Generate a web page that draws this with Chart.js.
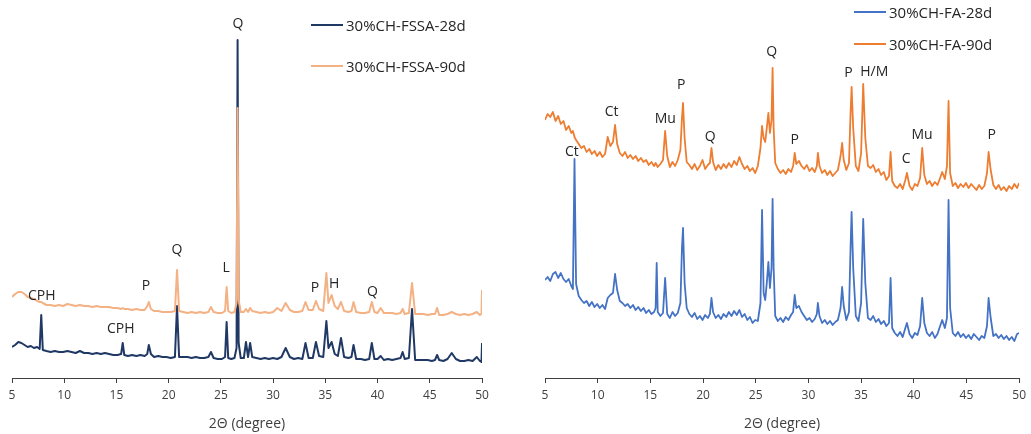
<!DOCTYPE html>
<html>
<head>
<meta charset="utf-8">
<script src="https://cdn.jsdelivr.net/npm/chart.js@4"></script>
<style>
  body { margin: 0; background: #fff; width: 1031px; height: 434px; position: relative; overflow: hidden; font-family: "Open Sans", sans-serif; }
  canvas { position: absolute; top: 0; }
  #leftChart { left: 0; }
  #rightChart { left: 525px; }
  .legend { position: absolute; font-size: 15px; color: #262626; white-space: nowrap; }
  .legend .item { position: absolute; left: 0; display: flex; align-items: center; }
  .legend .swatch { display: inline-block; width: 32px; height: 2px; margin-right: 3px; }
</style>
</head>
<body>
<canvas id="leftChart" width="500" height="434"></canvas>
<canvas id="rightChart" width="506" height="434"></canvas>
<div class="legend" id="leftLegend" style="left:311px; top:0;"></div>
<div class="legend" id="rightLegend" style="left:854px; top:0;"></div>
<script>
// ---- left panel: FSSA (2-theta grid shared by both patterns) ----
const fssaTheta = [
  5, 5.3, 5.6, 5.9, 6.2, 6.5, 6.8, 7.1, 7.4, 7.65,
  7.8, 7.95, 8.3, 8.7, 9.1, 9.5, 9.9, 10.3, 10.7, 11.1,
  11.5, 11.9, 12.3, 12.7, 13.1, 13.5, 13.9, 14.3, 14.7, 15.1,
  15.45, 15.6, 15.75, 16.1, 16.5, 16.9, 17.3, 17.7, 17.95, 18.1,
  18.3, 18.6, 19.0, 19.4, 19.8, 20.2, 20.6, 20.8, 21.0, 21.4,
  21.8, 22.2, 22.6, 23.0, 23.4, 23.8, 24.05, 24.3, 24.7, 25.1,
  25.4, 25.55, 25.7, 26.0, 26.3, 26.5, 26.6, 26.7, 26.9, 27.2,
  27.4, 27.6, 27.8, 28.0, 28.4, 28.8, 29.2, 29.6, 30.0, 30.4,
  30.8, 31.2, 31.6, 32.0, 32.4, 32.8, 33.1, 33.4, 33.8, 34.1,
  34.4, 34.8, 35.1, 35.3, 35.6, 35.9, 36.2, 36.5, 36.8, 37.2,
  37.5, 37.7, 37.95, 38.4, 38.8, 39.2, 39.45, 39.7, 40.0, 40.3,
  40.6, 41.0, 41.4, 41.8, 42.2, 42.4, 42.6, 43.0, 43.3, 43.6,
  44.0, 44.4, 44.8, 45.2, 45.5, 45.7, 45.9, 46.3, 46.7, 47.1,
  47.5, 47.9, 48.3, 48.7, 49.1, 49.5, 49.8, 49.95, 50
];
const fssa28d = [
  31, 33, 36, 35, 33, 31, 32, 30, 31, 29,
  63, 28, 27, 26, 27, 26, 26, 27, 26, 25,
  27, 25, 25, 24, 25, 24, 25, 24, 23, 23,
  24, 35, 23, 22, 23, 22, 23, 22, 24, 33,
  24, 21, 22, 21, 21, 20, 21, 72, 21, 21,
  21, 20, 21, 20, 20, 21, 26, 20, 19, 19,
  21, 56, 20, 19, 20, 30, 338, 35, 20, 20,
  36, 21, 35, 21, 20, 19, 20, 19, 20, 19,
  21, 30, 21, 19, 20, 19, 35, 20, 20, 36,
  22, 21, 57, 30, 36, 24, 22, 40, 21, 20,
  21, 33, 19, 19, 18, 19, 35, 19, 19, 22,
  18, 19, 18, 19, 20, 26, 19, 20, 69, 18,
  18, 18, 18, 17, 18, 23, 18, 17, 19, 25,
  19, 17, 17, 18, 17, 21, 17, 16, 35
];
const fssa90d = [
  81, 84, 86, 86, 84, 81, 80, 79, 77, 76,
  76, 75, 73, 73, 72, 73, 72, 74, 73, 72,
  73, 72, 72, 71, 72, 71, 71, 71, 70, 70,
  69, 70, 69, 69, 68, 69, 68, 68, 72, 76,
  69, 67, 67, 66, 66, 66, 67, 108, 67, 66,
  65, 66, 65, 66, 65, 66, 71, 66, 65, 65,
  67, 91, 67, 65, 66, 75, 270, 78, 66, 66,
  69, 66, 70, 67, 66, 65, 66, 65, 66, 70,
  67, 75, 68, 66, 66, 67, 76, 68, 68, 77,
  69, 67, 105, 75, 83, 72, 69, 76, 67, 66,
  67, 76, 66, 65, 65, 66, 76, 66, 65, 70,
  65, 65, 65, 64, 65, 69, 64, 65, 95, 64,
  64, 64, 63, 64, 64, 70, 63, 63, 64, 66,
  64, 63, 64, 63, 64, 66, 63, 64, 88
];
const fssaPeakNames = ["CPH", "CPH", "P", "Q", "L", "Q", "P", "H", "Q"];
const fssaPeakTheta = [7.85, 15.42, 17.83, 20.8, 25.5, 26.64, 34.0, 35.84, 39.5];
const fssaPeakLevel = [82, 49, 92, 128, 110, 354, 90, 94, 86];

// ---- right panel: FA ----
const faTheta = [
  5, 5.25, 5.5, 5.75, 6, 6.25, 6.5, 6.75, 7, 7.25,
  7.5, 7.65, 7.8, 7.95, 8.2, 8.45, 8.7, 8.95, 9.2, 9.45,
  9.7, 9.95, 10.2, 10.45, 10.7, 10.95, 11.2, 11.45, 11.65, 11.85,
  12.1, 12.35, 12.6, 12.85, 13.1, 13.35, 13.6, 13.85, 14.1, 14.35,
  14.6, 14.85, 15.1, 15.35, 15.5, 15.6, 15.7, 15.95, 16.2, 16.4,
  16.6, 16.85, 17.1, 17.35, 17.6, 17.85, 18.0, 18.1, 18.25, 18.45,
  18.7, 18.95, 19.2, 19.45, 19.7, 19.95, 20.2, 20.45, 20.65, 20.8,
  20.95, 21.2, 21.45, 21.7, 21.95, 22.2, 22.45, 22.7, 22.95, 23.2,
  23.45, 23.7, 23.95, 24.2, 24.45, 24.7, 24.95, 25.2, 25.45, 25.6,
  25.75, 25.9, 26.05, 26.2, 26.35, 26.5, 26.6, 26.7, 26.85, 27.1,
  27.35, 27.6, 27.85, 28.1, 28.35, 28.55, 28.7, 28.85, 29.1, 29.35,
  29.6, 29.85, 30.1, 30.35, 30.6, 30.8, 30.9, 31.05, 31.3, 31.55,
  31.8, 32.05, 32.3, 32.55, 32.8, 33.05, 33.2, 33.35, 33.6, 33.85,
  34.0, 34.1, 34.25, 34.5, 34.75, 35.0, 35.2, 35.4, 35.65, 35.9,
  36.15, 36.4, 36.65, 36.9, 37.15, 37.4, 37.65, 37.8, 37.95, 38.2,
  38.45, 38.7, 38.95, 39.2, 39.35, 39.6, 39.85, 40.1, 40.35, 40.6,
  40.8, 41.0, 41.25, 41.5, 41.75, 42.0, 42.25, 42.5, 42.7, 42.95,
  43.15, 43.3, 43.45, 43.7, 43.95, 44.2, 44.45, 44.7, 44.95, 45.2,
  45.45, 45.7, 45.95, 46.2, 46.45, 46.7, 46.95, 47.1, 47.3, 47.55,
  47.8, 48.05, 48.3, 48.55, 48.8, 49.05, 49.3, 49.55, 49.8, 50
];
const fa28d = [
  98, 101, 97, 104, 106, 100, 105, 99, 96, 99,
  92, 89, 219, 94, 82, 78, 75, 77, 72, 76,
  71, 74, 70, 73, 69, 80, 83, 85, 104, 88,
  77, 75, 72, 74, 70, 73, 68, 71, 67, 70,
  65, 68, 64, 66, 70, 115, 66, 62, 65, 100,
  64, 60, 66, 62, 65, 75, 130, 150, 95, 70,
  64, 61, 65, 59, 62, 58, 63, 60, 64, 80,
  66, 60, 63, 59, 64, 61, 66, 62, 67, 63,
  68, 61, 64, 58, 61, 55, 58, 57, 75, 168,
  85, 78, 95, 116, 90, 110, 179, 110, 62, 57,
  60, 56, 61, 58, 63, 66, 83, 70, 72, 66,
  62, 58, 60, 56, 59, 64, 75, 62, 55, 58,
  54, 57, 53, 56, 58, 70, 91, 72, 58, 66,
  130, 166, 110, 62, 57, 75, 159, 95, 60, 58,
  62, 56, 59, 54, 57, 52, 55, 100, 50, 45,
  42, 46, 41, 50, 55, 44, 40, 45, 43, 52,
  80, 55, 45, 42, 46, 40, 44, 52, 58, 50,
  60, 178, 70, 45, 42, 46, 41, 44, 40, 43,
  39, 44, 41, 38, 42, 40, 52, 80, 60, 42,
  44, 40, 43, 39, 42, 38, 41, 37, 44, 45
];
const fa90d = [
  258, 264, 261, 266, 257, 262, 254, 257, 248, 252,
  245, 247, 241, 238, 234, 230, 232, 226, 229, 224,
  227, 222, 226, 221, 224, 241, 232, 236, 253, 234,
  225, 222, 226, 220, 223, 219, 222, 217, 220, 216,
  218, 213, 216, 212, 215, 213, 211, 214, 218, 247,
  222, 211, 216, 212, 218, 228, 260, 275, 240, 216,
  213, 209, 214, 208, 212, 218, 209, 213, 215, 230,
  216, 208, 213, 209, 214, 210, 215, 211, 217, 213,
  221, 214, 209, 212, 207, 210, 205, 212, 230, 252,
  240, 236, 250, 265, 245, 258, 310, 250, 215, 209,
  205, 208, 204, 209, 206, 212, 225, 214, 217, 212,
  209, 213, 207, 210, 206, 212, 225, 212, 205, 208,
  203, 207, 202, 205, 208, 222, 235, 218, 208, 215,
  265, 291, 250, 212, 207, 225, 294, 240, 212, 210,
  213, 206, 209, 203, 206, 198, 202, 226, 197, 192,
  190, 194, 189, 198, 205, 192, 188, 194, 192, 200,
  230, 203, 194, 197, 192, 196, 193, 200, 206, 199,
  212, 277, 205, 192, 195, 190, 194, 191, 195, 190,
  194, 191, 188, 193, 189, 192, 205, 226, 208, 193,
  189, 193, 188, 191, 187, 192, 189, 194, 190, 195
];
const faPeakNames = ["Ct", "Ct", "Mu", "P", "Q", "Q", "P", "P", "H/M", "C", "Mu", "P"];
const faPeakTheta = [11.33, 7.55, 16.42, 17.93, 20.67, 26.52, 28.7, 33.8, 36.25, 39.27, 40.78, 47.39];
const faPeakLevel = [266, 226, 259, 293, 241, 326, 238, 305, 306, 219, 243, 243];

const thetaTicks = [5, 10, 15, 20, 25, 30, 35, 40, 45, 50];
const AXIS_TITLE = "2\u0398 (degree)";
const TEXT_COLOR = "#404040";
const AXIS_COLOR = "#404040";

const peakLabelPlugin = {
  id: "peakLabels",
  afterDatasetsDraw(chart, args, opts) {
    if (!opts || !opts.names) return;
    const ctx = chart.ctx;
    const xs = chart.scales.x;
    const ys = chart.scales.y;
    ctx.save();
    ctx.font = '14px "Open Sans", sans-serif';
    ctx.fillStyle = "#262626";
    ctx.textAlign = "center";
    ctx.textBaseline = "middle";
    opts.names.forEach((name, i) => {
      ctx.fillText(name, xs.getPixelForValue(opts.theta[i]), ys.getPixelForValue(opts.level[i]));
    });
    ctx.restore();
  },
};

function toPoints(theta, values) {
  return theta.map((t, i) => ({ x: t, y: values[i] }));
}

function makeChart(id, datasets, peaks, padding) {
  return new Chart(document.getElementById(id), {
    type: "line",
    data: { datasets },
    options: {
      responsive: false,
      animation: false,
      layout: { padding },
      elements: { point: { radius: 0 }, line: { tension: 0, borderJoinStyle: "round" } },
      plugins: {
        legend: { display: false },
        tooltip: { enabled: false },
        peakLabels: peaks,
      },
      scales: {
        x: {
          type: "linear",
          min: 5,
          max: 50,
          afterBuildTicks: (scale) => {
            scale.ticks = thetaTicks.map((v) => ({ value: v }));
          },
          afterFit: (scale) => {
            scale.height = 56;
          },
          ticks: {
            color: TEXT_COLOR,
            font: { family: "Open Sans", size: 12 },
            padding: 5,
            maxRotation: 0,
          },
          grid: { drawOnChartArea: false, drawTicks: true, tickLength: 5, color: AXIS_COLOR },
          border: { color: AXIS_COLOR, width: 1 },
          title: {
            display: true,
            text: AXIS_TITLE,
            color: TEXT_COLOR,
            font: { family: "Open Sans", size: 14 },
            padding: { top: 2, bottom: 2 },
          },
        },
        y: { display: false, min: 0, max: 368 },
      },
    },
    plugins: [peakLabelPlugin],
  });
}

makeChart(
  "leftChart",
  [
    { label: "30%CH-FSSA-28d", data: toPoints(fssaTheta, fssa28d), borderColor: "#203864", borderWidth: 2, order: 1 },
    { label: "30%CH-FSSA-90d", data: toPoints(fssaTheta, fssa90d), borderColor: "#f4b183", borderWidth: 2, order: 0 },
  ],
  { names: fssaPeakNames, theta: fssaPeakTheta, level: fssaPeakLevel },
  { left: 12, right: 18, top: 10, bottom: 0 }
);

makeChart(
  "rightChart",
  [
    { label: "30%CH-FA-28d", data: toPoints(faTheta, fa28d), borderColor: "#4472c4", borderWidth: 1.8, order: 1 },
    { label: "30%CH-FA-90d", data: toPoints(faTheta, fa90d), borderColor: "#ed7d31", borderWidth: 1.8, order: 0 },
  ],
  { names: faPeakNames, theta: faPeakTheta, level: faPeakLevel },
  { left: 20, right: 9, top: 10, bottom: 0 }
);

function buildLegend(id, items, rows) {
  const box = document.getElementById(id);
  items.forEach((it, i) => {
    const row = document.createElement("div");
    row.className = "item";
    row.style.top = rows[i] - 11 + "px";
    row.style.height = "22px";
    const sw = document.createElement("span");
    sw.className = "swatch";
    sw.style.background = it.color;
    const tx = document.createElement("span");
    tx.textContent = it.label;
    row.appendChild(sw);
    row.appendChild(tx);
    box.appendChild(row);
  });
}

buildLegend("leftLegend", [
  { label: "30%CH-FSSA-28d", color: "#203864" },
  { label: "30%CH-FSSA-90d", color: "#f4b183" },
], [25, 66]);
buildLegend("rightLegend", [
  { label: "30%CH-FA-28d", color: "#4472c4" },
  { label: "30%CH-FA-90d", color: "#ed7d31" },
], [12, 44]);
</script>
</body>
</html>
